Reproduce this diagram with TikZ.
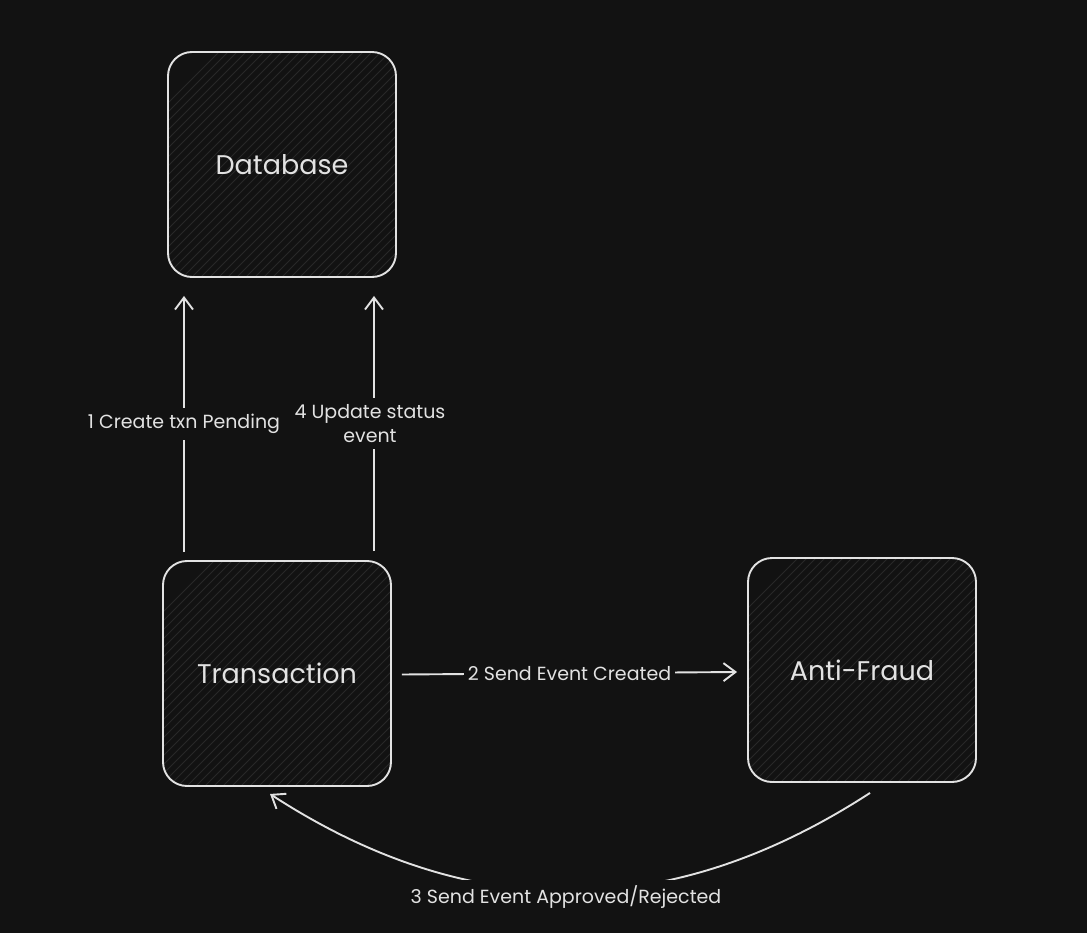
\documentclass[tikz,border=0pt]{standalone}
\usepackage{fontspec}
\setmainfont{Poppins}
\usetikzlibrary{arrows.meta}
\definecolor{bg}{HTML}{121212}
\definecolor{fg}{HTML}{E2E2E2}
\definecolor{hatchc}{HTML}{282828}
\begin{document}
\begin{tikzpicture}[x=1pt,y=-1pt,
  box/.style={draw=fg, line width=1.9pt, rounded corners=24pt, fill=bg,
    minimum width=228pt, minimum height=225pt, text=fg,
    font=\fontsize{27}{32}\selectfont,
    path picture={\foreach \i in {-32,...,32}{
      \draw[hatchc, line width=0.9pt] ([xshift=\i*9pt]path picture bounding box.south) ++(-260pt,-260pt) -- ++(520pt,520pt);}}},
  arr/.style={draw=fg, line width=1.9pt, -{Straight Barb[length=12pt,width=18pt,line width=1.9pt]}},
  lab/.style={fill=bg, text=fg, font=\fontsize{19}{24}\selectfont, inner xsep=4pt, inner ysep=6pt}]
\fill[bg] (0,0) rectangle (1087,933);
\useasboundingbox (0,0) rectangle (1087,933);

\node[box] (db) at (282,164.5) {Database};
\node[box] (tx) at (277,673.5) {Transaction};
\node[box, minimum height=224pt] (af) at (862,670) {Anti-Fraud};

\draw[arr] ([xshift=-93pt,yshift=8pt]tx.north) -- ([xshift=-98pt,yshift=-18pt]db.south)
  node[lab, pos=0.5] {1 Create txn Pending};
\draw[arr] ([xshift=97pt,yshift=9pt]tx.north) -- ([xshift=92pt,yshift=-18pt]db.south)
  node[lab, pos=0.5, align=center, xshift=-4pt] {4 Update status\\event};
\draw[arr] ([xshift=10pt,yshift=-1pt]tx.east) -- ([xshift=-10pt,yshift=-2pt]af.west)
  node[lab, pos=0.5] {2 Send Event Created};
\draw[arr] ([xshift=8pt,yshift=-10pt]af.south) .. controls +(-200pt,-130pt) and +(200pt,-130pt) .. ([xshift=-7pt,yshift=-7pt]tx.south)
  node[lab, pos=0.5, yshift=-6pt, xshift=-4pt] {3 Send Event Approved/Rejected};
\end{tikzpicture}
\end{document}
